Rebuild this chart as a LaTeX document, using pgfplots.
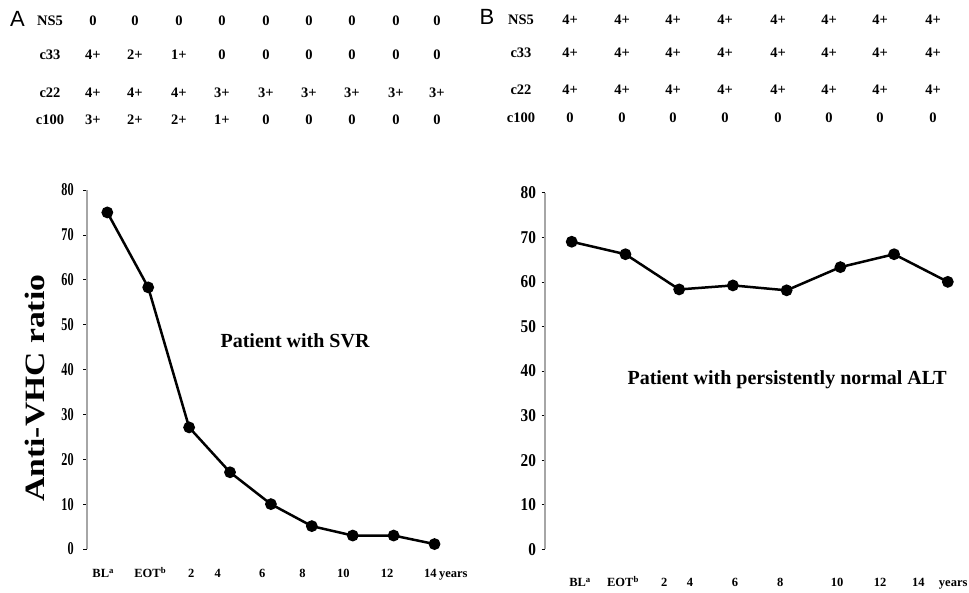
\documentclass[border=0pt]{standalone}
\usepackage{pgfplots}
\pgfplotsset{compat=1.18}
\usepackage{fontspec}
\setmainfont{Liberation Serif}
\newfontfamily\sansfont{Liberation Sans}
\newfontfamily\condA[FakeStretch=0.68]{Liberation Serif}
\newfontfamily\condB[FakeStretch=0.85]{Liberation Serif}
\newfontfamily\wideL[FakeStretch=1.2]{Liberation Serif}
\newcommand{\fs}[1]{\fontsize{#1}{#1}\selectfont}

\begin{document}
\begin{tikzpicture}[x=1pt,y=1pt]
\useasboundingbox (0,0) rectangle (969,592);
% panel letters
\node[font=\sansfont\fs{22}] at (17.5,573.5) {A};
\node[font=\sansfont\fs{22}] at (487,575) {B};
% table A
\begin{scope}[font=\bfseries\fs{14.5}]
\node at (50,571.3) {NS5};
\node at (50,537) {c33};
\node at (50,499.3) {c22};
\node at (50,472.7) {c100};
\foreach \x/\t in {93/0,135/0,179/0,222/0,266/0,309/0,352/0,396/0,437/0} \node at (\x,571.3) {\t};
\foreach \x/\t in {93/4+,135/2+,179/1+,222/0,266/0,309/0,352/0,396/0,437/0} \node at (\x,537) {\t};
\foreach \x/\t in {93/4+,135/4+,179/4+,222/3+,266/3+,309/3+,352/3+,396/3+,437/3+} \node at (\x,499.3) {\t};
\foreach \x/\t in {93/3+,135/2+,179/2+,222/1+,266/0,309/0,352/0,396/0,437/0} \node at (\x,472.7) {\t};
% table B
\node at (521,572) {NS5};
\node at (521,539) {c33};
\node at (521,502) {c22};
\node at (521,474) {c100};
\foreach \x/\t in {570/4+,622/4+,673/4+,725/4+,778/4+,829/4+,880/4+,933/4+} \node at (\x,572) {\t};
\foreach \x/\t in {570/4+,622/4+,673/4+,725/4+,778/4+,829/4+,880/4+,933/4+} \node at (\x,539) {\t};
\foreach \x/\t in {570/4+,622/4+,673/4+,725/4+,778/4+,829/4+,880/4+,933/4+} \node at (\x,502) {\t};
\foreach \x/\t in {570/0,622/0,673/0,725/0,778/0,829/0,880/0,933/0} \node at (\x,474) {\t};
\end{scope}

\pgfplotsset{
  myaxis/.style={
    scale only axis, anchor=south west, clip=false,
    axis y line*=left, axis x line*=bottom,
    x axis line style={draw=none},
    y axis line style={draw=gray!70, line width=1.6pt},
    ymin=0, ymax=80, ytick={0,10,...,80},
    tick align=outside, major tick length=3.5pt,
    ytick style={black, line width=0.6pt},
    xtick style={draw=none},
    /pgf/number format/assume math mode=true,
    xticklabel style={font=\bfseries\fs{12.5}, anchor=base},
  }
}

% panel A
\begin{axis}[myaxis,
  at={(86.7pt,43pt)}, width=378.3pt, height=359pt,
  xmin=-0.504, xmax=8.745,
  xtick={-0.1,1.05,2.05,2.7,3.79,4.77,5.77,6.84,7.9,8.46},
  xticklabels={BL\textsuperscript{a},EOT\textsuperscript{b},2,4,6,8,10,12,14,years},
  xticklabel style={yshift=-25pt},
  yticklabel style={font=\condA\bfseries\fs{18}, anchor=east, xshift=-6pt},
  ylabel={Anti-VHC ratio},
  ylabel style={font=\wideL\bfseries\fs{28}, at={(axis description cs:-0.137,0.448)}, anchor=center},
]
\addplot[black, line width=2.5pt, mark=*, mark size=4.6pt] coordinates {
 (0,75) (1,58.3) (2,27.1) (3,17.1) (4,10) (5,5.1) (6,3) (7,3) (8,1.1)};
\node[font=\bfseries\fs{20}] at (axis cs:4.59,46.5) {Patient with SVR};
\end{axis}

% panel B
\begin{axis}[myaxis,
  at={(545pt,42.7pt)}, width=420pt, height=356.6pt,
  xmin=-0.497, xmax=7.32,
  xtick={0.155,0.955,1.72,2.2,3.04,3.88,4.94,5.74,6.45,7.1},
  xticklabels={BL\textsuperscript{a},EOT\textsuperscript{b},2,4,6,8,10,12,14,years},
  xticklabel style={yshift=-34pt},
  yticklabel style={font=\condB\bfseries\fs{18}, anchor=east, xshift=-2pt},
]
\addplot[black, line width=2.5pt, mark=*, mark size=4.6pt] coordinates {
 (0,69) (1,66.2) (2,58.3) (3,59.2) (4,58.1) (5,63.3) (6,66.2) (7,60)};
\node[font=\bfseries\fs{20}] at (axis cs:4.01,38) {Patient with persistently normal ALT};
\end{axis}
\end{tikzpicture}
\end{document}
